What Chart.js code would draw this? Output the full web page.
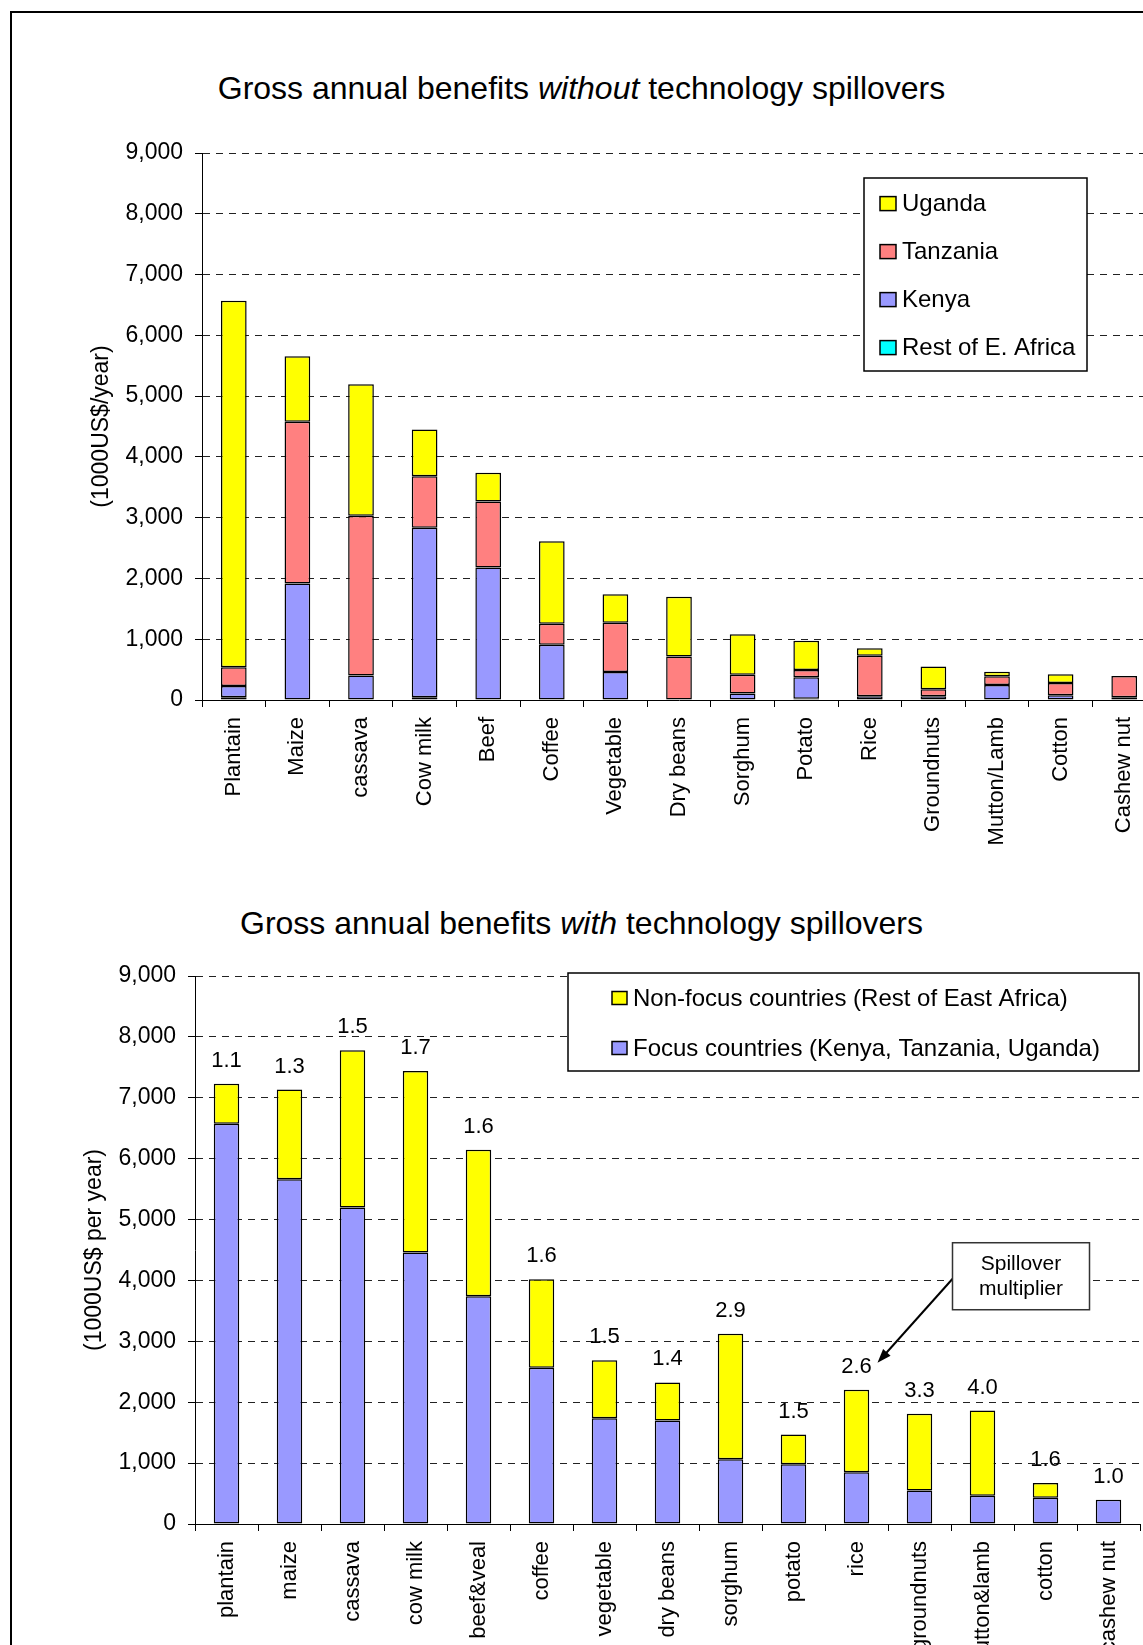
<!DOCTYPE html>
<html>
<head>
<meta charset="utf-8">
<script src="https://cdn.jsdelivr.net/npm/chart.js@4"></script>
<style>
    html, body {
        margin: 0;
        padding: 0;
        background: #fff;
        overflow: hidden;
        width: 1143px;
        height: 1645px;
    }
    #frame {
        position: absolute;
        left: 10px;
        top: 11px;
        width: 1300px;
        height: 1800px;
        border: 2px solid #000;
    }
    .title {
        position: absolute;
        left: 0;
        width: 1163px;
        text-align: center;
        font-family: "Liberation Sans", Arial, sans-serif;
        font-size: 32px;
        line-height: 36px;
        color: #000;
    }
    .box {
        position: absolute;
        left: 0;
    }
</style>
</head>
<body>

<div id="frame"></div>

<div class="title" style="top:70px;">Gross annual benefits <i>without</i> technology spillovers</div>
<div class="title" style="top:905px;">Gross annual benefits <i>with</i> technology spillovers</div>

<div class="box" style="top:0px; width:1180px; height:860px;">
    <canvas id="chartTop"></canvas>
</div>

<div class="box" style="top:870px; width:1180px; height:900px;">
    <canvas id="chartBottom"></canvas>
</div>

<script>

// =======================================
// DATA : WITHOUT SPILLOVERS (1000 US$/year)
// =======================================

const cropsTop = [
    "Plantain", "Maize", "cassava", "Cow milk", "Beef",
    "Coffee", "Vegetable", "Dry beans", "Sorghum", "Potato",
    "Rice", "Groundnuts", "Mutton/Lamb", "Cotton", "Cashew nut"
];

const restEastAfrica = [45, 0, 0, 45, 0, 0, 0, 0, 0, 20, 0, 0, 0, 0, 0];
const kenya          = [185, 1915, 405, 2790, 2180, 910, 460, 0, 105, 355, 60, 60, 245, 80, 45];
const tanzania       = [310, 2665, 2625, 845, 1085, 345, 810, 715, 310, 120, 670, 115, 145, 200, 350];
const uganda         = [6030, 1075, 2165, 770, 475, 1355, 470, 985, 665, 480, 120, 375, 75, 145, 0];

// =======================================
// DATA : WITH SPILLOVERS
// =======================================

const cropsBottom = [
    "plantain", "maize", "cassava", "cow milk", "beef&veal",
    "coffee", "vegetable", "dry beans", "sorghum", "potato",
    "rice", "groundnuts", "mutton&lamb", "cotton", "cashew nut"
];

const focusCountries    = [6575, 5660, 5200, 4460, 3740, 2565, 1735, 1700, 1065, 980, 850, 550, 465, 430, 400];
const nonFocusCountries = [655, 1475, 2580, 2980, 2405, 1455, 955, 625, 2060, 490, 1355, 1260, 1400, 245, 0];

const multipliers = ["1.1", "1.3", "1.5", "1.7", "1.6", "1.6", "1.5", "1.4", "2.9", "1.5", "2.6", "3.3", "4.0", "1.6", "1.0"];

const yTicks = [0, 1000, 2000, 3000, 4000, 5000, 6000, 7000, 8000, 9000];

// =======================================
// COMMON
// =======================================

const FONT = '"Liberation Sans", Arial, sans-serif';

Chart.defaults.font.family = FONT;
Chart.defaults.color = '#000';
Chart.defaults.animation = false;

function barSet(label, data, color) {
    return {
        label: label,
        data: data,
        backgroundColor: color,
        borderColor: '#000',
        borderWidth: 1.5,
        borderSkipped: false,
        barPercentage: 0.404,
        categoryPercentage: 1.0
    };
}

function scalesFor(yTitle, yWidth, titlePad, xHeight) {
    return {
        x: {
            stacked: true,
            afterFit: (s) => { s.height = xHeight; },
            grid: {
                display: true,
                drawOnChartArea: false,
                offset: true,
                color: '#000',
                tickLength: 7
            },
            border: { display: true, color: '#000', width: 1 },
            ticks: {
                autoSkip: false,
                minRotation: 90,
                maxRotation: 90,
                padding: 10,
                font: { size: 22 },
                color: '#000'
            }
        },
        y: {
            stacked: true,
            min: 0,
            max: 9000,
            afterFit: (s) => { s.width = yWidth; },
            afterBuildTicks: (s) => { s.ticks = yTicks.map(v => ({ value: v })); },
            grid: {
                color: '#222',
                lineWidth: 1,
                tickColor: '#000',
                tickLength: 7,
                tickBorderDash: []
            },
            border: { display: true, color: '#000', width: 1, dash: [7, 6] },
            ticks: {
                padding: 12,
                font: { size: 23 },
                color: '#000',
                callback: (v) => v.toLocaleString('en-US')
            },
            title: {
                display: true,
                text: yTitle,
                font: { size: 23 },
                color: '#000',
                padding: { top: titlePad, bottom: 0 }
            }
        }
    };
}

// =======================================
// LEGEND INSIDE THE PLOT (drawn from datasets)
// =======================================

const boxLegend = {
    id: 'boxLegend',
    afterDraw(chart, args, opts) {
        const ctx = chart.ctx;
        const a = chart.chartArea;
        const x = a.left + opts.dx;
        const y = a.top + opts.dy;

        ctx.save();
        ctx.fillStyle = '#fff';
        ctx.fillRect(x, y, opts.w, opts.h);
        ctx.strokeStyle = '#000';
        ctx.lineWidth = 1.5;
        ctx.strokeRect(x, y, opts.w, opts.h);

        const sets = chart.data.datasets.slice().reverse();
        ctx.font = '24px ' + FONT;
        ctx.textBaseline = 'middle';
        ctx.textAlign = 'left';

        sets.forEach((ds, i) => {
            const cy = y + opts.first + opts.step * i;
            ctx.fillStyle = ds.backgroundColor;
            ctx.fillRect(x + opts.sx, cy - opts.sh / 2, opts.sw, opts.sh);
            ctx.strokeStyle = '#000';
            ctx.lineWidth = 1.5;
            ctx.strokeRect(x + opts.sx, cy - opts.sh / 2, opts.sw, opts.sh);
            ctx.fillStyle = '#000';
            ctx.fillText(ds.label, x + opts.tx, cy + 1);
        });
        ctx.restore();
    }
};

// =======================================
// MULTIPLIER LABELS + CALLOUT
// =======================================

const multiplierLabels = {
    id: 'multiplierLabels',
    afterDatasetsDraw(chart) {
        const ctx = chart.ctx;
        const last = chart.getDatasetMeta(chart.data.datasets.length - 1);

        ctx.save();
        ctx.font = '22px ' + FONT;
        ctx.fillStyle = '#000';
        ctx.textAlign = 'center';
        ctx.textBaseline = 'middle';
        last.data.forEach((bar, i) => {
            ctx.fillText(multipliers[i], bar.x, bar.y - 23);
        });

        // callout pointing at the rice label
        const rice = last.data[cropsBottom.indexOf('rice')];
        const bx = rice.x;
        const by = rice.y;

        const x0 = bx + 97, y0 = by - 112;
        const x1 = bx + 21, y1 = by - 27;
        const ang = Math.atan2(y1 - y0, x1 - x0);

        ctx.strokeStyle = '#000';
        ctx.lineWidth = 2;
        ctx.beginPath();
        ctx.moveTo(x0, y0);
        ctx.lineTo(x1 - 8 * Math.cos(ang), y1 - 8 * Math.sin(ang));
        ctx.stroke();

        ctx.fillStyle = '#000';
        ctx.beginPath();
        ctx.moveTo(x1, y1);
        ctx.lineTo(x1 - 14 * Math.cos(ang) + 5 * Math.sin(ang), y1 - 14 * Math.sin(ang) - 5 * Math.cos(ang));
        ctx.lineTo(x1 - 14 * Math.cos(ang) - 5 * Math.sin(ang), y1 - 14 * Math.sin(ang) + 5 * Math.cos(ang));
        ctx.closePath();
        ctx.fill();

        const rx = bx + 96, ry = by - 147, rw = 137, rh = 67;
        ctx.fillStyle = '#fff';
        ctx.fillRect(rx, ry, rw, rh);
        ctx.strokeStyle = '#333';
        ctx.lineWidth = 1.5;
        ctx.strokeRect(rx, ry, rw, rh);

        ctx.fillStyle = '#000';
        ctx.font = '21px ' + FONT;
        ctx.fillText('Spillover', rx + rw / 2, ry + 21);
        ctx.fillText('multiplier', rx + rw / 2, ry + 46);
        ctx.restore();
    }
};

// =======================================
// 📊 TOP CHART
// =======================================

new Chart(document.getElementById('chartTop'), {
    type: 'bar',
    data: {
        labels: cropsTop,
        datasets: [
            barSet('Rest of E. Africa', restEastAfrica, '#00FFFF'),
            barSet('Kenya', kenya, '#9999FF'),
            barSet('Tanzania', tanzania, '#FF8080'),
            barSet('Uganda', uganda, '#FFFF00')
        ]
    },
    options: {
        responsive: true,
        maintainAspectRatio: false,
        devicePixelRatio: 1,
        layout: { padding: { top: 153, right: 24, bottom: 0, left: 0 } },
        scales: scalesFor('(1000US$/year)', 202, 88, 160),
        plugins: {
            legend: { display: false },
            tooltip: { enabled: false },
            boxLegend: {
                dx: 662, dy: 25, w: 223, h: 193,
                first: 25.6, step: 48,
                sx: 16, sw: 16, sh: 14, tx: 38
            }
        }
    },
    plugins: [boxLegend]
});

// =======================================
// 📊 BOTTOM CHART
// =======================================

new Chart(document.getElementById('chartBottom'), {
    type: 'bar',
    data: {
        labels: cropsBottom,
        datasets: [
            barSet('Focus countries (Kenya, Tanzania, Uganda)', focusCountries, '#9999FF'),
            barSet('Non-focus countries (Rest of East Africa)', nonFocusCountries, '#FFFF00')
        ]
    },
    options: {
        responsive: true,
        maintainAspectRatio: false,
        devicePixelRatio: 1,
        layout: { padding: { top: 106, right: 40, bottom: 0, left: 0 } },
        scales: scalesFor('(1000US$ per year)', 195, 81, 246),
        plugins: {
            legend: { display: false },
            tooltip: { enabled: false },
            boxLegend: {
                dx: 373, dy: -3, w: 571, h: 98,
                first: 25, step: 50,
                sx: 44, sw: 15, sh: 13, tx: 65
            }
        }
    },
    plugins: [boxLegend, multiplierLabels]
});

</script>
</body>
</html>
